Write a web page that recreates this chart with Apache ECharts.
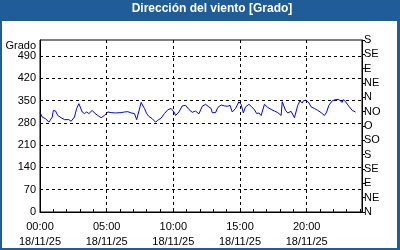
<!DOCTYPE html>
<html>
<head>
<meta charset="utf-8">
<script src="https://cdn.jsdelivr.net/npm/echarts@6/dist/echarts.min.js"></script>
<style>
html,body{margin:0;padding:0;background:#fff;}
#c{width:400px;height:250px;}
</style>
</head>
<body>
<div id="c"></div>
<script>
// ---- data ----
var times = ["00:00","00:10","00:25","00:40","00:55","01:00","01:10","01:20","01:35","01:50",
"02:10","02:20","02:35","02:45","02:55","03:00","03:10","03:20","03:30","03:40",
"03:55","04:05","04:20","04:35","04:50","05:05","05:20","05:40","06:05","06:20",
"06:35","06:50","07:05","07:15","07:20","07:30","07:35","07:50","08:00","08:10",
"08:25","08:40","08:50","09:05","09:20","09:35","09:50","09:55","10:05","10:10",
"10:25","10:40","10:55","11:10","11:25","11:40","11:55","12:10","12:25","12:40",
"12:50","12:55","13:10","13:20","13:35","13:50","14:05","14:15","14:25","14:40",
"14:55","15:05","15:15","15:25","15:40","15:50","16:05","16:15","16:25","16:35",
"16:50","17:05","17:20","17:35","17:50","18:05","18:10","18:25","18:35","18:50",
"19:05","19:10","19:20","19:30","19:40","19:45","19:55","20:10","20:20","20:35",
"20:50","21:05","21:20","21:30","21:40","21:55","22:10","22:25","22:40","22:45",
"22:55","23:10","23:25","23:40"];
var direction = [312,298,293,282,298,319,317,303,296,290,
290,285,298,325,340,344,314,309,314,309,
319,311,303,296,303,314,312,311,312,314,
315,311,309,290,296,330,344,325,309,300,
293,282,288,295,309,321,325,319,312,303,
314,333,335,322,313,317,308,332,338,330,
325,312,312,328,336,333,332,335,314,325,
346,338,311,330,338,332,321,309,311,303,
338,328,322,317,312,303,346,319,311,316,
296,298,335,349,342,349,351,343,330,325,
319,312,303,314,335,349,353,353,344,353,
346,332,319,314];
var dateLabel = "18/11/25";
var leftTicks = [0,70,140,210,280,350,420,490];
var compass = ["N","NE","E","SE","S","SO","O","NO","N","NE","E","SE","S"];
var titleText = "Dirección del viento [Grado]";
var unitName = "Grado";

function toMin(s){var p=s.split(":");return (+p[0])*60+(+p[1]);}
var seriesData = times.map(function(t,i){return [toMin(t), direction[i]];});
function pad(n){return (n<10?"0":"")+n;}

var BLUE = "#1f5c98";
var FONT = "Liberation Sans";
var chart = echarts.init(document.getElementById('c'), null, {renderer:'canvas'});
chart.setOption({
  animation:false,
  backgroundColor:'#fff',
  textStyle:{fontFamily:FONT},
  graphic:[
    {type:'rect', left:0, top:0, z:-10, shape:{width:400,height:250}, style:{fill:BLUE}},
    {type:'rect', left:2, top:21, z:-9, shape:{width:395,height:227}, style:{fill:'#fff'}},
    {type:'text', right:364, top:40, style:{text:unitName, fill:'#000', font:'11px "Liberation Sans"'}}
  ],
  title:{text:titleText, left:212, top:3, textAlign:'center', padding:0,
    textStyle:{color:'#fff', fontSize:12, fontWeight:'bold', fontFamily:FONT}},
  grid:{left:40, right:38, top:40, bottom:38, show:true, borderColor:'#000', borderWidth:1, backgroundColor:'transparent'},
  xAxis:{type:'value', min:0, max:1449, interval:300,
    axisLine:{show:true, lineStyle:{color:'#000', width:1}},
    axisTick:{show:true, inside:true, length:3, lineStyle:{color:'#000'}},
    minorTick:{show:true, splitNumber:5, length:3, lineStyle:{color:'#000'}},
    splitLine:{show:true, showMinLine:false, showMaxLine:false, lineStyle:{color:'#000', type:[3,3], width:1}},
    axisLabel:{showMaxLabel:false, margin:7, color:'#000', fontSize:11, fontFamily:FONT, lineHeight:15,
      formatter:function(v){ if(v%300!==0||v>=1440) return ''; return pad(Math.floor(v/60))+":"+pad(v%60)+"\n"+dateLabel; }}
  },
  yAxis:[
    {type:'value', min:0, max:540, interval:70, position:'left',
      axisLine:{show:true, lineStyle:{color:'#000'}},
      axisTick:{show:false},
      splitLine:{show:true, showMinLine:false, showMaxLine:false, lineStyle:{color:'#000', type:[3,3], width:1}},
      axisLabel:{showMaxLabel:false, margin:4, color:'#000', fontSize:11, fontFamily:FONT,
        formatter:function(v){ return leftTicks.indexOf(v)>=0 ? String(v) : ''; }}
    },
    {type:'value', min:0, max:540, interval:45, position:'right',
      axisLine:{show:true, lineStyle:{color:'#000'}},
      axisTick:{show:true, length:3, lineStyle:{color:'#000'}},
      splitLine:{show:false},
      axisLabel:{margin:2, color:'#000', fontSize:11, fontFamily:FONT,
        formatter:function(v){ return compass[Math.round(v/45)]; }}
    }
  ],
  series:[{type:'line', data:seriesData, yAxisIndex:0, showSymbol:false, symbol:'none',
    lineStyle:{color:'#0000ff', width:1}, itemStyle:{color:'#0000ff'}}]
});
</script>
</body>
</html>
